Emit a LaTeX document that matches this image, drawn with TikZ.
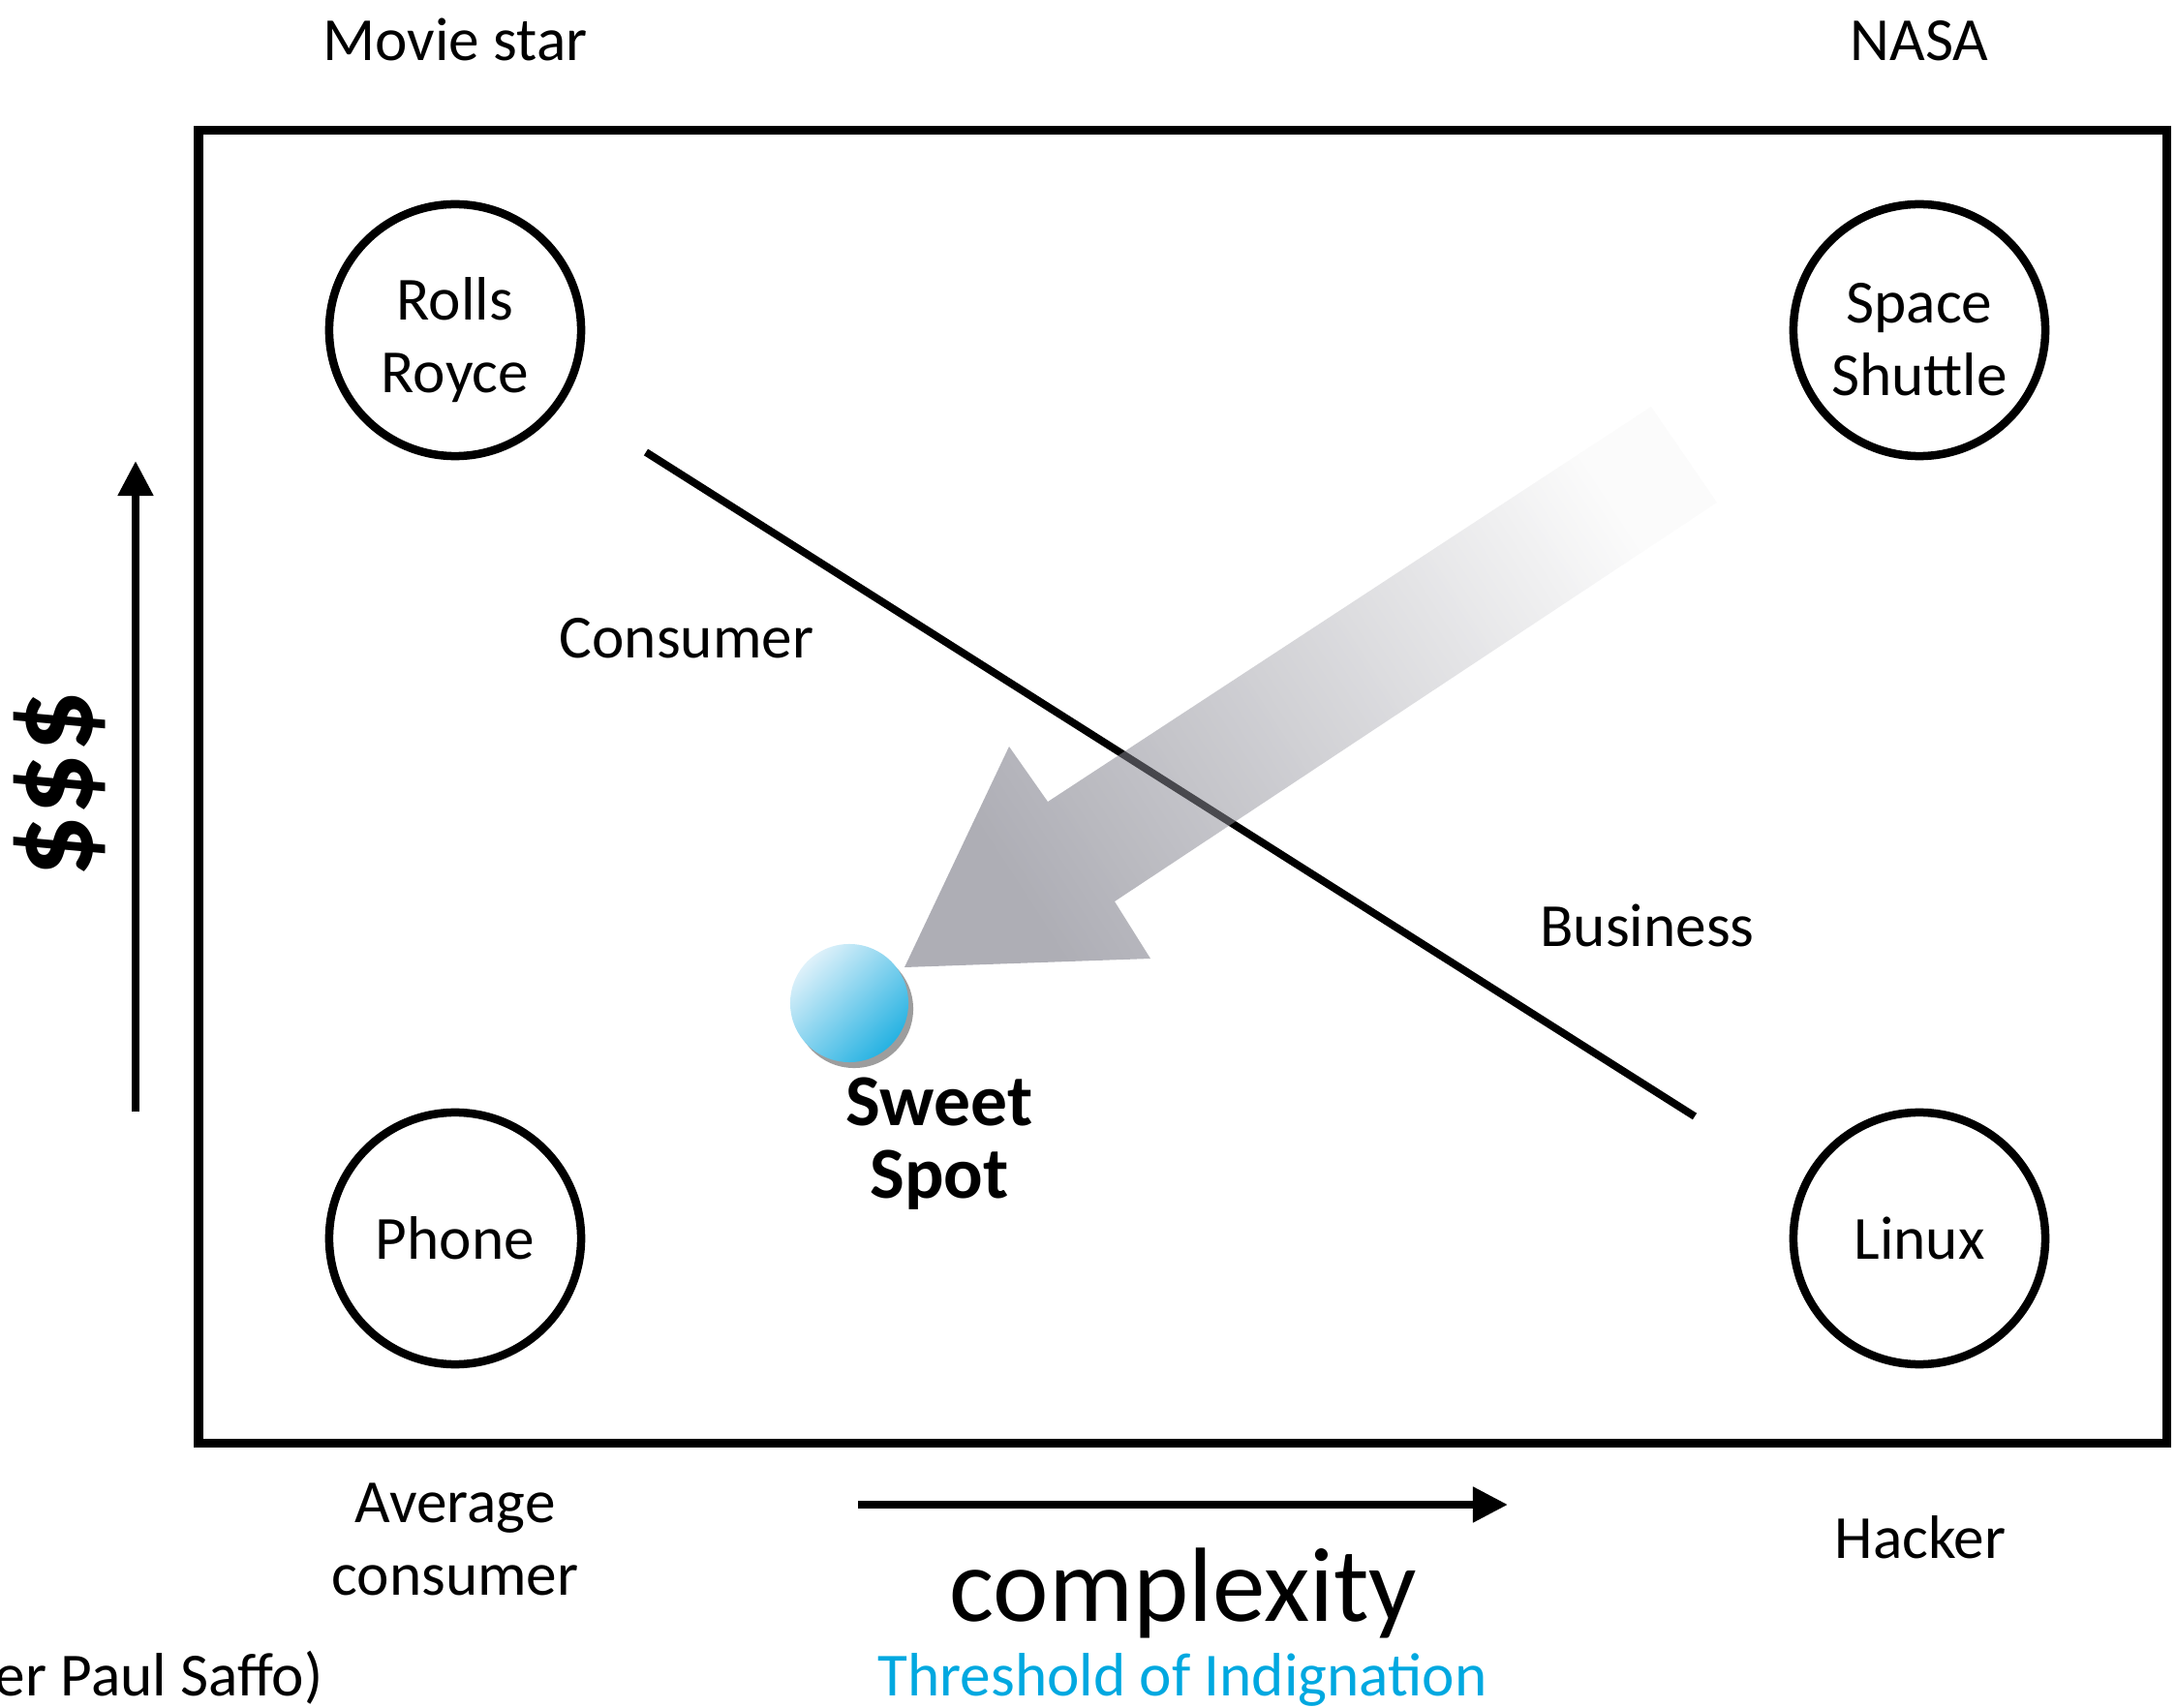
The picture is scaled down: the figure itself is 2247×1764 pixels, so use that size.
\documentclass[tikz,border=0pt]{standalone}
\usepackage{fontspec}
\setmainfont{Carlito}
\usetikzlibrary{arrows.meta,shadows}
\definecolor{indigblue}{RGB}{0,168,224}
\definecolor{spotlite}{RGB}{222,241,250}
\definecolor{spotdark}{RGB}{38,178,226}
\definecolor{arrowlite}{gray}{0.97}
\definecolor{arrowdark}{RGB}{100,100,114}
\newcommand{\lblsize}{\fontsize{18}{21.3}\selectfont}

\begin{document}
\begin{tikzpicture}[x=0.01cm, y=-0.01cm,
    quad/.style={circle, draw, line width=0.085cm, minimum size=2.6cm, inner sep=0pt, align=center, font=\lblsize},
    lbl/.style={align=center, font=\lblsize},
    inlbl/.style={label={[lbl, yshift=-0.1cm]center:#1}},
    axisline/.style={line width=0.08cm, -{Triangle[length=0.36cm, width=0.35cm]}}]
    \useasboundingbox (0,0) rectangle (2247,1764);
\draw[line width=0.09cm] (205,135) rectangle (2237,1490);
\node[quad, inlbl={Rolls\\Royce}] (rolls) at (470,341) {};
\node[quad, inlbl={Space\\Shuttle}] (shuttle) at (1982,341) {};
\node[quad, yshift=-0.03cm] (phone) at (470,1276) {Phone};
\node[quad, yshift=-0.03cm] (linux) at (1982,1276) {Linux};
\node[lbl, anchor=base] (moviestar) at (470,63) {Movie star};
\node[lbl, anchor=base] (nasa) at (1982,63) {NASA};
\node[lbl] (avg) at (470,1590) {Average\\consumer};
\node[lbl] (hacker) at (1983,1588) {Hacker};
\node[lbl] (consumer) at (709,659) {Consumer};
\node[lbl] (business) at (1701,956) {Business};
\coordinate (divtop) at (667,467);
\coordinate (divbot) at (1750,1153);
\draw[line width=0.078cm] (divtop) -- (divbot);
\shade[top color=arrowlite, bottom color=arrowdark, shading angle=-57, fill opacity=0.52] (1705,420) -- (1773,519) -- (1151,931) -- (1188,990) -- (934,999) -- (1042,771) -- (1082,828) -- cycle;
\node[circle, minimum size=1.22cm, inner sep=0pt, top color=spotlite, bottom color=spotdark, shading angle=45, drop shadow={shadow xshift=0.05cm, shadow yshift=-0.06cm, opacity=0.55, fill=black!70}] (spot) at (877,1036) {};
\node[align=center, font=\bfseries\fontsize{21.5}{21.3}\selectfont] (sweet) at (970,1181) {Sweet\\Spot};
\coordinate (ybot) at (140,1148);
\coordinate (ytop) at (140,476);
\draw[axisline] (ybot) -- (ytop);
\coordinate (xleft) at (886,1554);
\coordinate (xright) at (1557,1554);
\draw[axisline] (xleft) -- (xright);
\node[rotate=90, font=\bfseries\fontsize{36}{36}\selectfont] (money) at (62,810) {\$\$\$};
\node[anchor=base, font=\fontsize{31}{31}\selectfont] (complexity) at (1222,1674) {complexity};
\node[lbl, anchor=base, text=indigblue] (threshold) at (1221,1751) {Threshold of Indignation};
\node[lbl, anchor=base west, inner sep=0pt] (saffo) at (-6,1751) {er Paul Saffo)};
\end{tikzpicture}
\end{document}
